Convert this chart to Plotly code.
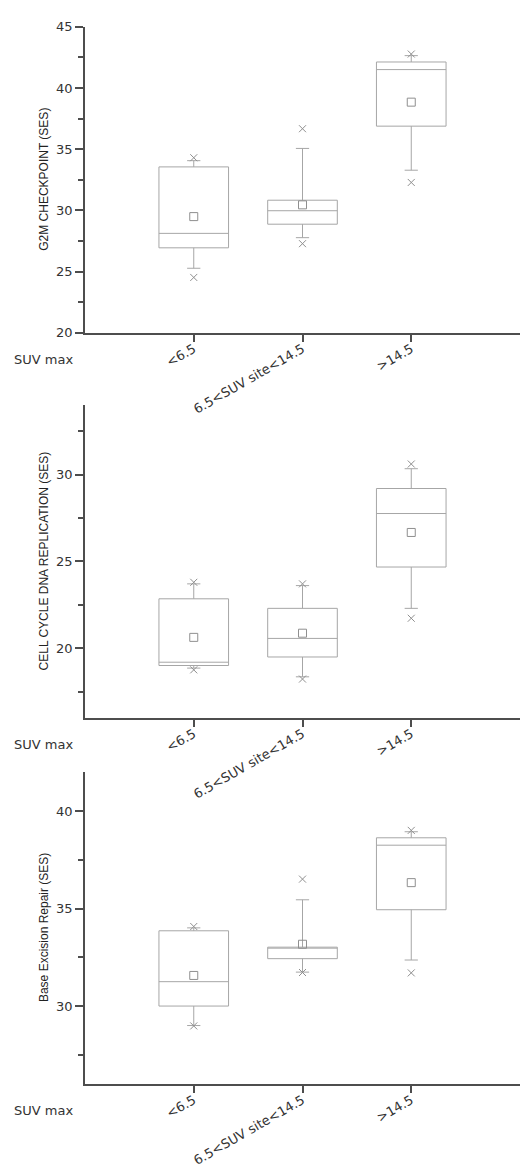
import plotly.graph_objects as go

W, H = 520, 1172

categories = ["<6.5", "6.5<SUV site<14.5", ">14.5"]
positions = [1, 2, 3]

# Panel 1: G2M CHECKPOINT (SES)
g2m_q1 = [26.94, 28.87, 36.88]
g2m_median = [28.12, 29.97, 41.50]
g2m_q3 = [33.55, 30.83, 42.12]
g2m_low = [25.27, 27.77, 33.28]
g2m_high = [34.06, 35.06, 42.64]
g2m_mean = [29.49, 30.45, 38.84]
g2m_min = [24.52, 27.28, 32.28]
g2m_max = [34.30, 36.67, 42.77]

# Panel 2: CELL CYCLE DNA REPLICATION (SES)
ccr_q1 = [19.01, 19.50, 24.68]
ccr_median = [19.20, 20.57, 27.76]
ccr_q3 = [22.85, 22.30, 29.20]
ccr_low = [18.86, 18.36, 22.30]
ccr_high = [23.71, 23.61, 30.34]
ccr_mean = [20.63, 20.87, 26.67]
ccr_min = [18.76, 18.23, 21.73]
ccr_max = [23.80, 23.71, 30.61]

# Panel 3: Base Excision Repair (SES)
ber_q1 = [30.00, 32.43, 34.94]
ber_median = [31.25, 32.99, 38.25]
ber_q3 = [33.86, 33.02, 38.63]
ber_low = [29.00, 31.74, 32.36]
ber_high = [34.01, 35.45, 38.94]
ber_mean = [31.57, 33.17, 36.33]
ber_min = [28.98, 31.72, 31.70]
ber_max = [34.08, 36.51, 39.01]

titles = ["G2M CHECKPOINT (SES)", "CELL CYCLE DNA REPLICATION (SES)", "Base Excision Repair (SES)"]
yranges = [[20, 45], [16, 34], [26, 42]]
panels_px = [(20, 330), (403.3, 720), (775, 1091)]

BOX_C = "#a6a6a6"
AX_C = "#4d4d4d"
TXT_C = "#333333"

fig = go.Figure()

panels = [
    (g2m_q1, g2m_median, g2m_q3, g2m_low, g2m_high, g2m_mean, g2m_min, g2m_max),
    (ccr_q1, ccr_median, ccr_q3, ccr_low, ccr_high, ccr_mean, ccr_min, ccr_max),
    (ber_q1, ber_median, ber_q3, ber_low, ber_high, ber_mean, ber_min, ber_max),
]

def py(p):
    return (H - p) / H

layout_axes = {}
annotations = []
for i, (q1, med, q3, lo, hi, mean, mn, mx) in enumerate(panels):
    n = "" if i == 0 else str(i + 1)
    xa, ya = "x" + n, "y" + n
    fig.add_trace(go.Box(
        x=positions, q1=q1, median=med, q3=q3, lowerfence=lo, upperfence=hi,
        width=0.64, whiskerwidth=0.19, boxpoints=False,
        line=dict(color=BOX_C, width=1), fillcolor="rgba(255,255,255,0)",
        xaxis=xa, yaxis=ya, showlegend=False, hoverinfo="skip"))
    fig.add_trace(go.Scatter(
        x=positions + positions, y=mn + mx, mode="markers",
        marker=dict(symbol="x-thin", size=7, line=dict(color="#8f8f8f", width=1)),
        xaxis=xa, yaxis=ya, showlegend=False, hoverinfo="skip"))
    fig.add_trace(go.Scatter(
        x=positions, y=mean, mode="markers",
        marker=dict(symbol="square-open", size=8, color="#8f8f8f", line=dict(width=1)),
        xaxis=xa, yaxis=ya, showlegend=False, hoverinfo="skip"))

    top, bot = panels_px[i]
    dom = [py(bot), py(top)]
    layout_axes["xaxis" + n] = dict(
        domain=[85 / W, 1], range=[0, 4], anchor=ya,
        tickmode="array", tickvals=positions, ticktext=categories,
        tickangle=-30, ticks="outside", ticklen=7, tickwidth=1.5, tickcolor=AX_C,
        ticklabelstandoff=-5,
        showline=True, linecolor=AX_C, linewidth=1.5, showgrid=False, zeroline=False,
        tickfont=dict(family="DejaVu Sans", size=13, color=TXT_C))
    layout_axes["yaxis" + n] = dict(
        domain=dom, range=yranges[i], anchor=xa, dtick=5, tick0=0,
        ticks="outside", ticklen=8, tickwidth=1.5, tickcolor=AX_C,
        minor=dict(ticks="outside", ticklen=5, dtick=2.5, tick0=0, tickcolor=AX_C, tickwidth=1.5),
        showline=True, linecolor=AX_C, linewidth=1.5, showgrid=False, zeroline=False,
        tickfont=dict(family="DejaVu Sans", size=13, color=TXT_C))
    annotations.append(dict(
        text=titles[i], xref="paper", yref="paper", x=44 / W, y=(dom[0] + dom[1]) / 2,
        textangle=-90, showarrow=False, xanchor="center", yanchor="middle",
        font=dict(family="Liberation Sans", size=12, color="#222222")))
    annotations.append(dict(
        text="SUV max", xref="paper", yref="paper", x=12 / W, y=py(bot + 27),
        showarrow=False, xanchor="left", yanchor="middle",
        font=dict(family="DejaVu Sans", size=13, color=TXT_C)))

fig.update_layout(
    width=W, height=H, margin=dict(l=0, r=0, t=0, b=0),
    paper_bgcolor="white", plot_bgcolor="white", showlegend=False,
    annotations=annotations, **layout_axes)

fig.write_html("out.html")
